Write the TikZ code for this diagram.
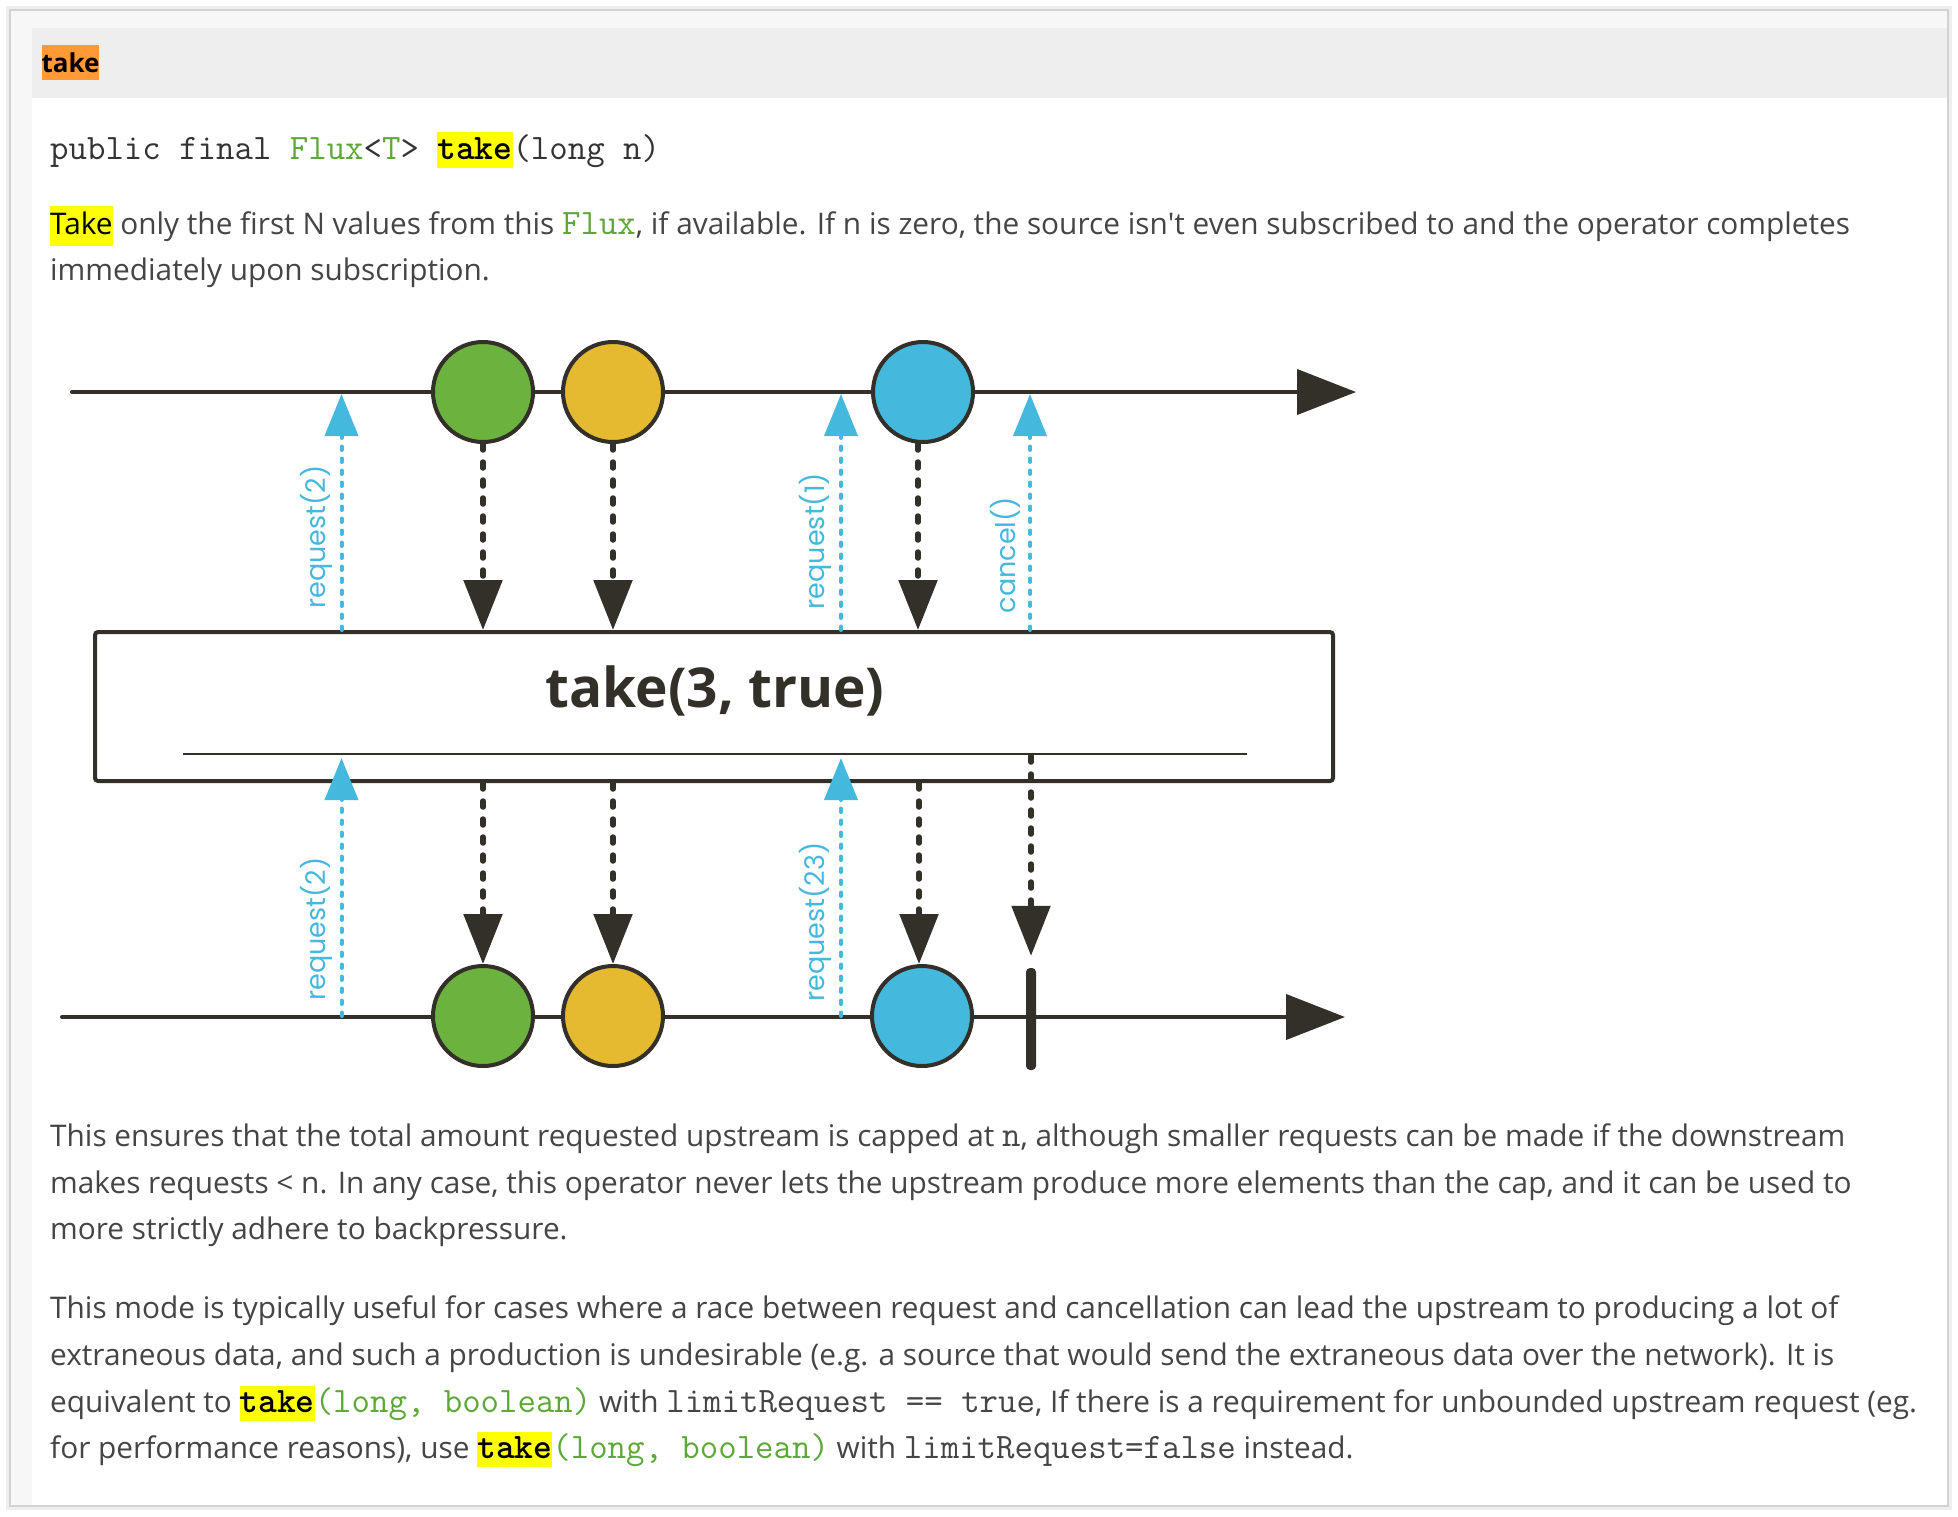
\documentclass[tikz,border=0pt]{standalone}
\usepackage{fontspec}
\setmainfont{Open Sans}
\newfontfamily\lblfont{Poppins}
\newfontfamily\ttlfont{Open Sans}
\usetikzlibrary{arrows.meta}
\definecolor{ink}{HTML}{333029}
\definecolor{mgreen}{HTML}{6CB23E}
\definecolor{myellow}{HTML}{E5BA31}
\definecolor{mblue}{HTML}{45B8DD}
\definecolor{txt}{HTML}{454545}
\definecolor{codedark}{HTML}{333333}
\definecolor{codegreen}{HTML}{5EA83A}
\definecolor{hl}{HTML}{FFFF00}
\definecolor{orangehl}{HTML}{FF9A36}
\definecolor{cardline}{HTML}{D2D2D2}
\definecolor{stripgray}{HTML}{F7F7F7}
\definecolor{headgray}{HTML}{EEEEEE}
\newcommand\monofont{\ttfamily\fontsize{35.8}{40}\selectfont\addfontfeatures{FakeBold=0.8}}
\newcommand\cd[1]{{\monofont #1}}
\newcommand\cdb[1]{{\ttfamily\bfseries\fontsize{35.8}{40}\selectfont #1}}
\newcommand\hlbox[3]{{\setlength\fboxsep{0pt}\colorbox{hl}{\rule[-#2pt]{0pt}{#3pt}#1}}}
\tikzset{
  body/.style={anchor=base west, inner sep=0pt, text=txt, font=\fontsize{29.8}{40}\selectfont},
  timeline/.style={draw=ink, line width=4pt, line cap=round, -{Triangle[length=59pt,width=45pt]}},
  marble/.style={circle, draw=ink, line width=4pt, minimum size=100pt, inner sep=0pt},
  flow/.style={draw=ink, line width=5.5pt, line cap=round, dash pattern=on 6pt off 12pt, -{Triangle[length=50pt,width=38pt]}},
  req/.style={draw=mblue, line width=4pt, line cap=round, dash pattern=on 3.5pt off 8.5pt, -{Triangle[length=42pt,width=33pt]}},
  lbl/.style={text=mblue, inner sep=0pt, font=\lblfont\fontsize{27}{30}\selectfont},
}
\begin{document}
\begin{tikzpicture}[x=1pt,y=-1pt]
\useasboundingbox (0,0) rectangle (1958,1516);
\fill[white] (0,0) rectangle (1958,1516);
% card
\draw[draw=headgray, line width=4pt] (8,8) rectangle (1950,1508);
\draw[draw=cardline, line width=1.5pt, fill=white] (10,10) rectangle (1948,1506);
\fill[stripgray] (10.8,10.8) rectangle (1947.2,28);
\fill[stripgray] (10.8,28) rectangle (32,1505.2);
\fill[headgray] (32,28) rectangle (1947.2,98);
\node[fill=orangehl, inner sep=0pt, minimum width=55pt, minimum height=35pt, font=\bfseries\fontsize{26}{28}\selectfont, text=black] (hdr) at (70.5,62.5) {take};

% code signature
\node[anchor=base west, inner sep=0pt, text=codedark, font=\monofont] (sig) at (50,159.5)
  {public final \textcolor{codegreen}{Flux}<\textcolor{codegreen}{T}> \hlbox{\cdb{\textcolor{black}{take}}}{8.5}{36}(long n)};

% paragraph 1
\node[body] (p1a) at (50,234) {\hlbox{\textcolor{black}{Take}}{12}{40} only the first N values from this \textcolor{codegreen}{\cd{Flux}}, if available. If n is zero, the source isn\textquotesingle t even subscribed to and the operator completes};
\node[body] (p1b) at (50,280) {immediately upon subscription.};

% paragraph 2
\node[body] (p2a) at (50,1146) {This ensures that the total amount requested upstream is capped at \cd{n}, although smaller requests can be made if the downstream};
\node[body] (p2b) at (50,1193) {makes requests < n. In any case, this operator never lets the upstream produce more elements than the cap, and it can be used to};
\node[body] (p2c) at (50,1239) {more strictly adhere to backpressure.};

% paragraph 3
\node[body] (p3a) at (50,1318) {This mode is typically useful for cases where a race between request and cancellation can lead the upstream to producing a lot of};
\node[body] (p3b) at (50,1365) {extraneous data, and such a production is undesirable (e.g. a source that would send the extraneous data over the network). It is};
\node[body] (p3c) at (50,1412) {equivalent to \hlbox{\cdb{\textcolor{black}{take}}}{9}{35}\textcolor{codegreen}{\cd{(long, boolean)}} with \cd{limitRequest == true}, If there is a requirement for unbounded upstream request (eg.};
\node[body] (p3d) at (50,1458) {for performance reasons), use \hlbox{\cdb{\textcolor{black}{take}}}{9}{35}\textcolor{codegreen}{\cd{(long, boolean)}} with \cd{limitRequest=false} instead.};

% ---------- diagram ----------
% operator box
\node[draw=ink, line width=4pt, rounded corners=3pt, minimum width=1238pt, minimum height=149pt, inner sep=0pt] (box) at (714,706.5) {};
\node[anchor=base, inner sep=0pt, text=ink, font=\ttlfont\bfseries\fontsize{55}{60}\selectfont] (title) at (715,707) {take(3, true)};
\coordinate (il0) at (183,754);
\coordinate (il1) at (1247,754);
\draw[draw=ink, line width=2.5pt] (il0) -- (il1);

% timelines
\coordinate (t0) at (72,392);
\coordinate (t1) at (1356,392);
\coordinate (s0) at (62,1017);
\coordinate (s1) at (1345,1017);
\draw[timeline] (t0) -- (t1);
\draw[timeline] (s0) -- (s1);

% source marbles
\node[marble, fill=mgreen] (g1) at (483,392) {};
\node[marble, fill=myellow] (y1) at (613,392) {};
\node[marble, fill=mblue] (b1) at (923,392) {};
% result marbles
\node[marble, fill=mgreen] (g2) at (483,1016) {};
\node[marble, fill=myellow] (y2) at (613,1016) {};
\node[marble, fill=mblue] (b2) at (922,1016) {};
% completion bar
\node[fill=ink, rounded corners=4pt, minimum width=10pt, minimum height=102pt, inner sep=0pt] (done) at (1031,1019) {};

% top onNext arrows
\draw[flow] (g1.south) -- (g1.south |- box.north);
\draw[flow] (y1.south) -- (y1.south |- box.north);
\draw[flow] ([xshift=-5pt]b1.south) -- ([xshift=-5pt]b1.south |- box.north);
% bottom onNext arrows
\draw[flow] (g2.north |- box.south) -- (g2.north);
\draw[flow] (y2.north |- box.south) -- (y2.north);
\draw[flow] ([xshift=-3pt]b2.north |- box.south) -- ([xshift=-3pt]b2.north);
% cancel propagation to completion
\coordinate (cc) at (1031,756);
\draw[flow] (cc) -- ([yshift=12pt]done.north);

% request / cancel signals (upstream)
\coordinate (ru1) at (341.5,394);
\coordinate (ru2) at (841,394);
\coordinate (ru3) at (1030,394);
\draw[req] (ru1 |- box.north) -- (ru1);
\draw[req] (ru2 |- box.north) -- (ru2);
\draw[req] (ru3 |- box.north) -- (ru3);
% request signals (downstream)
\coordinate (rd1) at (341.5,1016);
\coordinate (rd1e) at (341.5,758);
\coordinate (rd2) at (841,1016);
\coordinate (rd2e) at (841,758);
\draw[req] (rd1) -- (rd1e);
\draw[req] (rd2) -- (rd2e);

% labels
\node[lbl, rotate=90] (l1) at (316,537) {request(2)};
\node[lbl, rotate=90] (l2) at (815,541) {request(1)};
\node[lbl, rotate=90] (l3) at (1005,555) {cancel()};
\node[lbl, rotate=90] (l4) at (316,929) {request(2)};
\node[lbl, rotate=90] (l5) at (815,922) {request(23)};
\end{tikzpicture}
\end{document}
